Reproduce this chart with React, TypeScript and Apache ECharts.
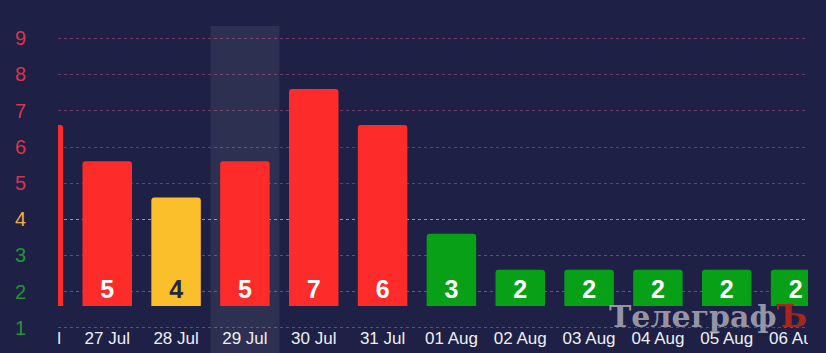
import React, { useEffect, useRef } from 'react';
import * as echarts from 'echarts';

const CATEGORIES = ['26 Jul', '27 Jul', '28 Jul', '29 Jul', '30 Jul', '31 Jul', '01 Aug', '02 Aug', '03 Aug', '04 Aug', '05 Aug', '06 Aug'];
const VALUES = [6, 5, 4, 5, 7, 6, 3, 2, 2, 2, 2, 2];
const HIGHLIGHT = '29 Jul';
const TICK_VALUES = [0.4, 1.4, 2.4, 3.4, 4.4, 5.4, 6.4, 7.4, 8.4];
const TICK_LABELS = ['1', '2', '3', '4', '5', '6', '7', '8', '9'];
const TICK_COLORS = ['#1f9637', '#1f9637', '#1f9637', '#f0ad48', '#d8344f', '#d8344f', '#d8344f', '#d8344f', '#d8344f'];
const GRID_COLORS = ['#4f5580', '#585c87', '#5d4f7d', '#9495ad', '#6e3d68', '#6e3d68', '#6e3d68', '#6e3d68', '#6e3d68'];
const BAR_BASE = 1;
const Y_MIN = -0.3;
const Y_MAX = 8.74;

const BG = '#1e2045';
const RED = '#fe2b2b';
const YELLOW = '#fbbf2b';
const GREEN = '#07a017';
const FONT = 'Arial, "Liberation Sans", sans-serif';

function barColor(v: number) {
  if (v >= 5) return RED;
  if (v === 4) return YELLOW;
  return GREEN;
}

function tickLabel(v: number) {
  const i = TICK_VALUES.findIndex((t) => Math.abs(t - v) < 1e-6);
  return i < 0 ? '' : `{c${i}|${TICK_LABELS[i]}}`;
}

export default function App() {
  const axisRef = useRef<HTMLDivElement>(null);
  const mainRef = useRef<HTMLDivElement>(null);

  useEffect(() => {
    const axisChart = echarts.init(axisRef.current!, undefined, { renderer: 'svg' });
    const mainChart = echarts.init(mainRef.current!, undefined, { renderer: 'svg' });

    const rich: Record<string, any> = {};
    TICK_COLORS.forEach((c, i) => {
      rich['c' + i] = { color: c, fontSize: 20, fontFamily: FONT };
    });

    axisChart.setOption({
      animation: false,
      backgroundColor: 'transparent',
      grid: { left: 58, right: 18, top: 26, bottom: 0 },
      xAxis: { type: 'value', show: false, min: 0, max: 1 },
      yAxis: {
        type: 'value',
        min: Y_MIN,
        max: Y_MAX,
        axisLine: { show: false },
        splitLine: { show: false },
        axisTick: { show: false, customValues: TICK_VALUES },
        axisLabel: {
          customValues: TICK_VALUES,
          formatter: (v: number) => tickLabel(v),
          rich,
          margin: 32,
          align: 'right',
        },
      },
      series: [{ type: 'line', data: [] }],
    });

    mainChart.setOption({
      animation: false,
      backgroundColor: 'transparent',
      grid: { left: 0, right: 0, top: 26, bottom: 0 },
      xAxis: {
        type: 'category',
        data: CATEGORIES,
        axisLine: { show: false },
        axisTick: { show: false },
        axisLabel: {
          inside: true,
          interval: 0,
          margin: 6,
          color: '#eef0f6',
          fontSize: 17,
          fontFamily: FONT,
        },
        z: 5,
      },
      yAxis: {
        type: 'value',
        min: Y_MIN,
        max: Y_MAX,
        startValue: BAR_BASE,
        axisLine: { show: false },
        axisLabel: { show: false },
        axisTick: { show: false, customValues: TICK_VALUES },
        splitLine: {
          show: true,
          lineStyle: { color: GRID_COLORS, type: [3, 3], width: 1 },
        },
      },
      graphic: [
        {
          type: 'text',
          x: 605,
          y: 316,
          z: 100,
          style: {
            text: '{g|Телеграф}{r|Ъ}',
            verticalAlign: 'middle',
            rich: {
              g: { fontFamily: '"DejaVu Serif", serif', fontWeight: 'bold', fontSize: 30, fill: 'rgba(170,170,185,0.85)' },
              r: { fontFamily: '"DejaVu Serif", serif', fontWeight: 'bold', fontSize: 32, fill: '#a8241f' },
            },
          },
        },
      ],
      series: [
        {
          type: 'custom',
          z: 1,
          silent: true,
          data: [[CATEGORIES.indexOf(HIGHLIGHT), 0]],
          encode: { x: 0, y: 1 },
          renderItem: (params: any, api: any) => {
            const c = api.coord([api.value(0), 0]);
            const w = api.size([1, 0])[0];
            const cs = params.coordSys;
            return {
              type: 'rect',
              shape: { x: c[0] - w / 2, y: cs.y, width: w, height: cs.height },
              style: { fill: 'rgba(255,255,255,0.075)' },
            };
          },
        },
        {
          type: 'bar',
          z: 2,
          barWidth: 49.5,
          data: VALUES.map((v) => ({
            value: v,
            itemStyle: { color: barColor(v), borderRadius: [3, 3, 0, 0] },
            label: { color: barColor(v) === YELLOW ? '#25273a' : '#ffffff' },
          })),
          label: {
            show: true,
            position: 'insideBottom',
            distance: 4,
            fontSize: 25,
            fontWeight: 'bold',
            fontFamily: FONT,
            formatter: '{c}',
          },
        },
      ],
    });

    return () => {
      axisChart.dispose();
      mainChart.dispose();
    };
  }, []);

  return (
    <div style={{ position: 'fixed', left: 0, top: 0, width: 826, height: 353, background: BG, overflow: 'hidden' }}>
      <div ref={axisRef} style={{ position: 'absolute', left: 0, top: 0, width: 826, height: 353 }} />
      <div style={{ position: 'absolute', left: 58, top: 0, width: 750, height: 353, overflow: 'hidden' }}>
        <div ref={mainRef} style={{ position: 'absolute', left: -54.2, top: 0, width: 826, height: 353 }} />
      </div>
    </div>
  );
}
